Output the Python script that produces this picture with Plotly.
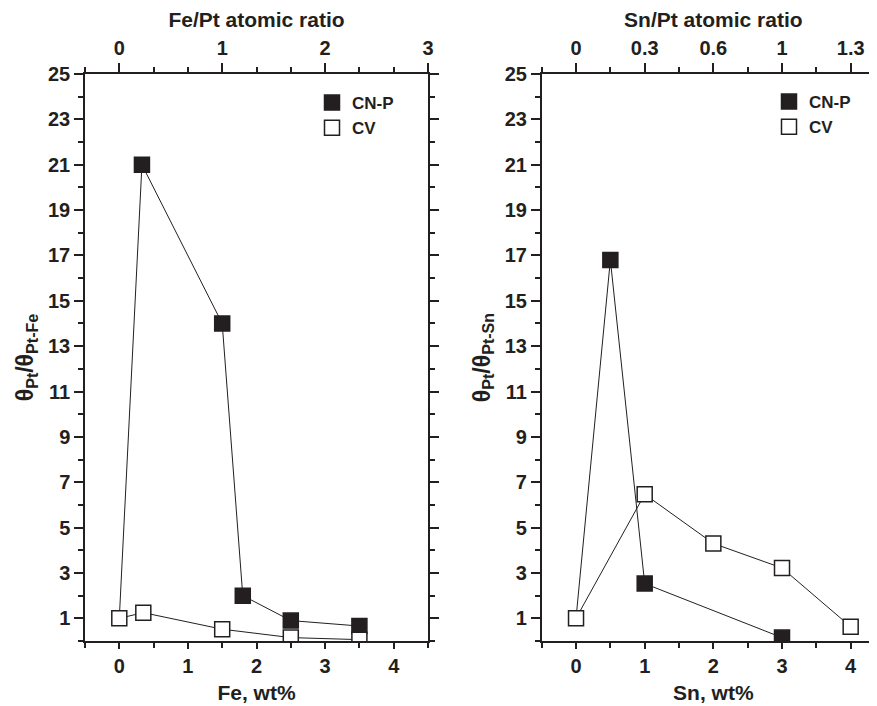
import plotly.graph_objects as go

# Fe panel (wt%)
fe_cnp_x = [0, 0.33, 1.5, 1.8, 2.5, 3.5]
fe_cnp_y = [1, 21.0, 14.0, 2.0, 0.9, 0.66]
fe_cv_x = [0, 0.35, 1.5, 2.5, 3.5]
fe_cv_y = [1, 1.25, 0.52, 0.15, 0.06]

# Sn panel (wt%)
sn_cnp_x = [0, 0.5, 1, 3]
sn_cnp_y = [1, 16.8, 2.53, 0.15]
sn_cv_x = [0, 1, 2, 3, 4]
sn_cv_y = [1, 6.47, 4.3, 3.22, 0.63]

# top axes: atomic ratio labels placed at wt% positions
fe_ratio_pos = [0, 1.5, 3, 4.5]
fe_ratio_txt = ['0', '1', '2', '3']
sn_ratio_pos = [0, 1, 2, 3, 4]
sn_ratio_txt = ['0', '0.3', '0.6', '1', '1.3']

wt_ticks = [0, 1, 2, 3, 4]
y_ticks = list(range(1, 26, 2))

INK = '#231f20'
FONT = 'Liberation Sans, Arial, sans-serif'
W, H = 877, 706
OFF = 8  # page body margin

fig = go.Figure()


def add_series(x, y, xa, ya, filled, name, legend, show_first_marker=True):
    fig.add_trace(go.Scatter(x=x, y=y, xaxis=xa, yaxis=ya, mode='lines',
                             line=dict(color=INK, width=1), showlegend=False,
                             hoverinfo='skip'))
    mx = x if show_first_marker else x[1:]
    my = y if show_first_marker else y[1:]
    fig.add_trace(go.Scatter(x=mx, y=my, xaxis=xa, yaxis=ya, mode='markers', name=name,
                             legend=legend,
                             marker=dict(symbol='square', size=15,
                                         color=INK if filled else 'white',
                                         line=dict(color=INK, width=1.5))))


add_series(fe_cnp_x, fe_cnp_y, 'x', 'y', True, 'CN-P', 'legend', show_first_marker=False)
add_series(fe_cv_x, fe_cv_y, 'x', 'y', False, 'CV', 'legend')
add_series(sn_cnp_x, sn_cnp_y, 'x2', 'y2', True, 'CN-P', 'legend2', show_first_marker=False)
add_series(sn_cv_x, sn_cv_y, 'x2', 'y2', False, 'CV', 'legend2')

tickfont = dict(family=FONT, size=20, color=INK, weight='bold')
titlefont = dict(family=FONT, size=21, color=INK, weight='bold')
ytitlefont = dict(family=FONT, size=23, color=INK, weight='bold')


def bold(labels):
    return ['<b>%s</b>' % t for t in labels]


def px_x(p):
    return (p - OFF) / W


def px_y(p):
    return 1 - (p - OFF) / H


minor_ticks = dict(dtick=0.5, tick0=0, ticklen=5, ticks='outside', tickcolor=INK, tickwidth=1.5)

axis_common = dict(showline=True, linecolor=INK, linewidth=1.5, ticks='outside',
                   tickcolor=INK, tickwidth=1.5, ticklen=6, showgrid=False, zeroline=False,
                   tickfont=tickfont, automargin=False)

ydom = [px_y(641), px_y(74)]
x1dom = [px_x(85), px_x(428)]
x2dom = [px_x(541.7), 1.0]

yax = dict(axis_common, range=[0, 25], tickvals=y_ticks, ticktext=bold(map(str, y_ticks)), ticklen=9,
           minor=dict(tickvals=list(range(0, 26, 2)), ticklen=5, ticks='outside',
                      tickcolor=INK, tickwidth=1.5))

fig.update_layout(
    width=W, height=H, margin=dict(l=0, r=0, t=0, b=0),
    paper_bgcolor='white', plot_bgcolor='white',
    font=dict(family=FONT, color=INK),
    xaxis=dict(axis_common, domain=x1dom, anchor='y', range=[-0.5, 4.5],
               tickvals=wt_ticks, ticktext=bold(map(str, wt_ticks)), minor=minor_ticks,
               title=dict(text='<b>Fe, wt%</b>', font=titlefont, standoff=10)),
    yaxis=dict(yax, domain=ydom, anchor='x', mirror='ticks',
               title=dict(text='<b>θ<sub>Pt</sub>/θ<sub>Pt-Fe</sub></b>', font=ytitlefont, standoff=8)),
    xaxis3=dict(axis_common, overlaying='x', side='top', anchor='y', range=[-0.5, 4.5],
                tickvals=fe_ratio_pos, ticktext=bold(fe_ratio_txt), ticklen=9, minor=minor_ticks,
                title=dict(text='<b>Fe/Pt atomic ratio</b>', font=titlefont, standoff=16)),
    xaxis2=dict(axis_common, domain=x2dom, anchor='y2', range=[-0.5, 4.5],
                tickvals=wt_ticks, ticktext=bold(map(str, wt_ticks)), minor=minor_ticks,
                title=dict(text='<b>Sn, wt%</b>', font=titlefont, standoff=10)),
    yaxis2=dict(yax, domain=ydom, anchor='x2',
                title=dict(text='<b>θ<sub>Pt</sub>/θ<sub>Pt-Sn</sub></b>', font=ytitlefont, standoff=8)),
    xaxis4=dict(axis_common, overlaying='x2', side='top', anchor='y2', range=[-0.5, 4.5],
                tickvals=sn_ratio_pos, ticktext=bold(sn_ratio_txt), ticklen=9, minor=minor_ticks,
                title=dict(text='<b>Sn/Pt atomic ratio</b>', font=titlefont, standoff=16)),
    legend=dict(x=px_x(312), y=px_y(85), xanchor='left', yanchor='top',
                bgcolor='rgba(0,0,0,0)', font=dict(family=FONT, size=17, color=INK),
                tracegroupgap=0, itemwidth=30),
    legend2=dict(x=px_x(769), y=px_y(84), xanchor='left', yanchor='top',
                 bgcolor='rgba(0,0,0,0)', font=dict(family=FONT, size=17, color=INK),
                 tracegroupgap=0, itemwidth=30),
)

# empty traces so the top axes render
fig.add_trace(go.Scatter(x=[None], y=[None], xaxis='x3', yaxis='y', showlegend=False))
fig.add_trace(go.Scatter(x=[None], y=[None], xaxis='x4', yaxis='y2', showlegend=False))

for tr in fig.data:
    if tr.mode == 'markers':
        tr.name = '<b>' + tr.name + '</b>'

fig.write_html('out.html')
